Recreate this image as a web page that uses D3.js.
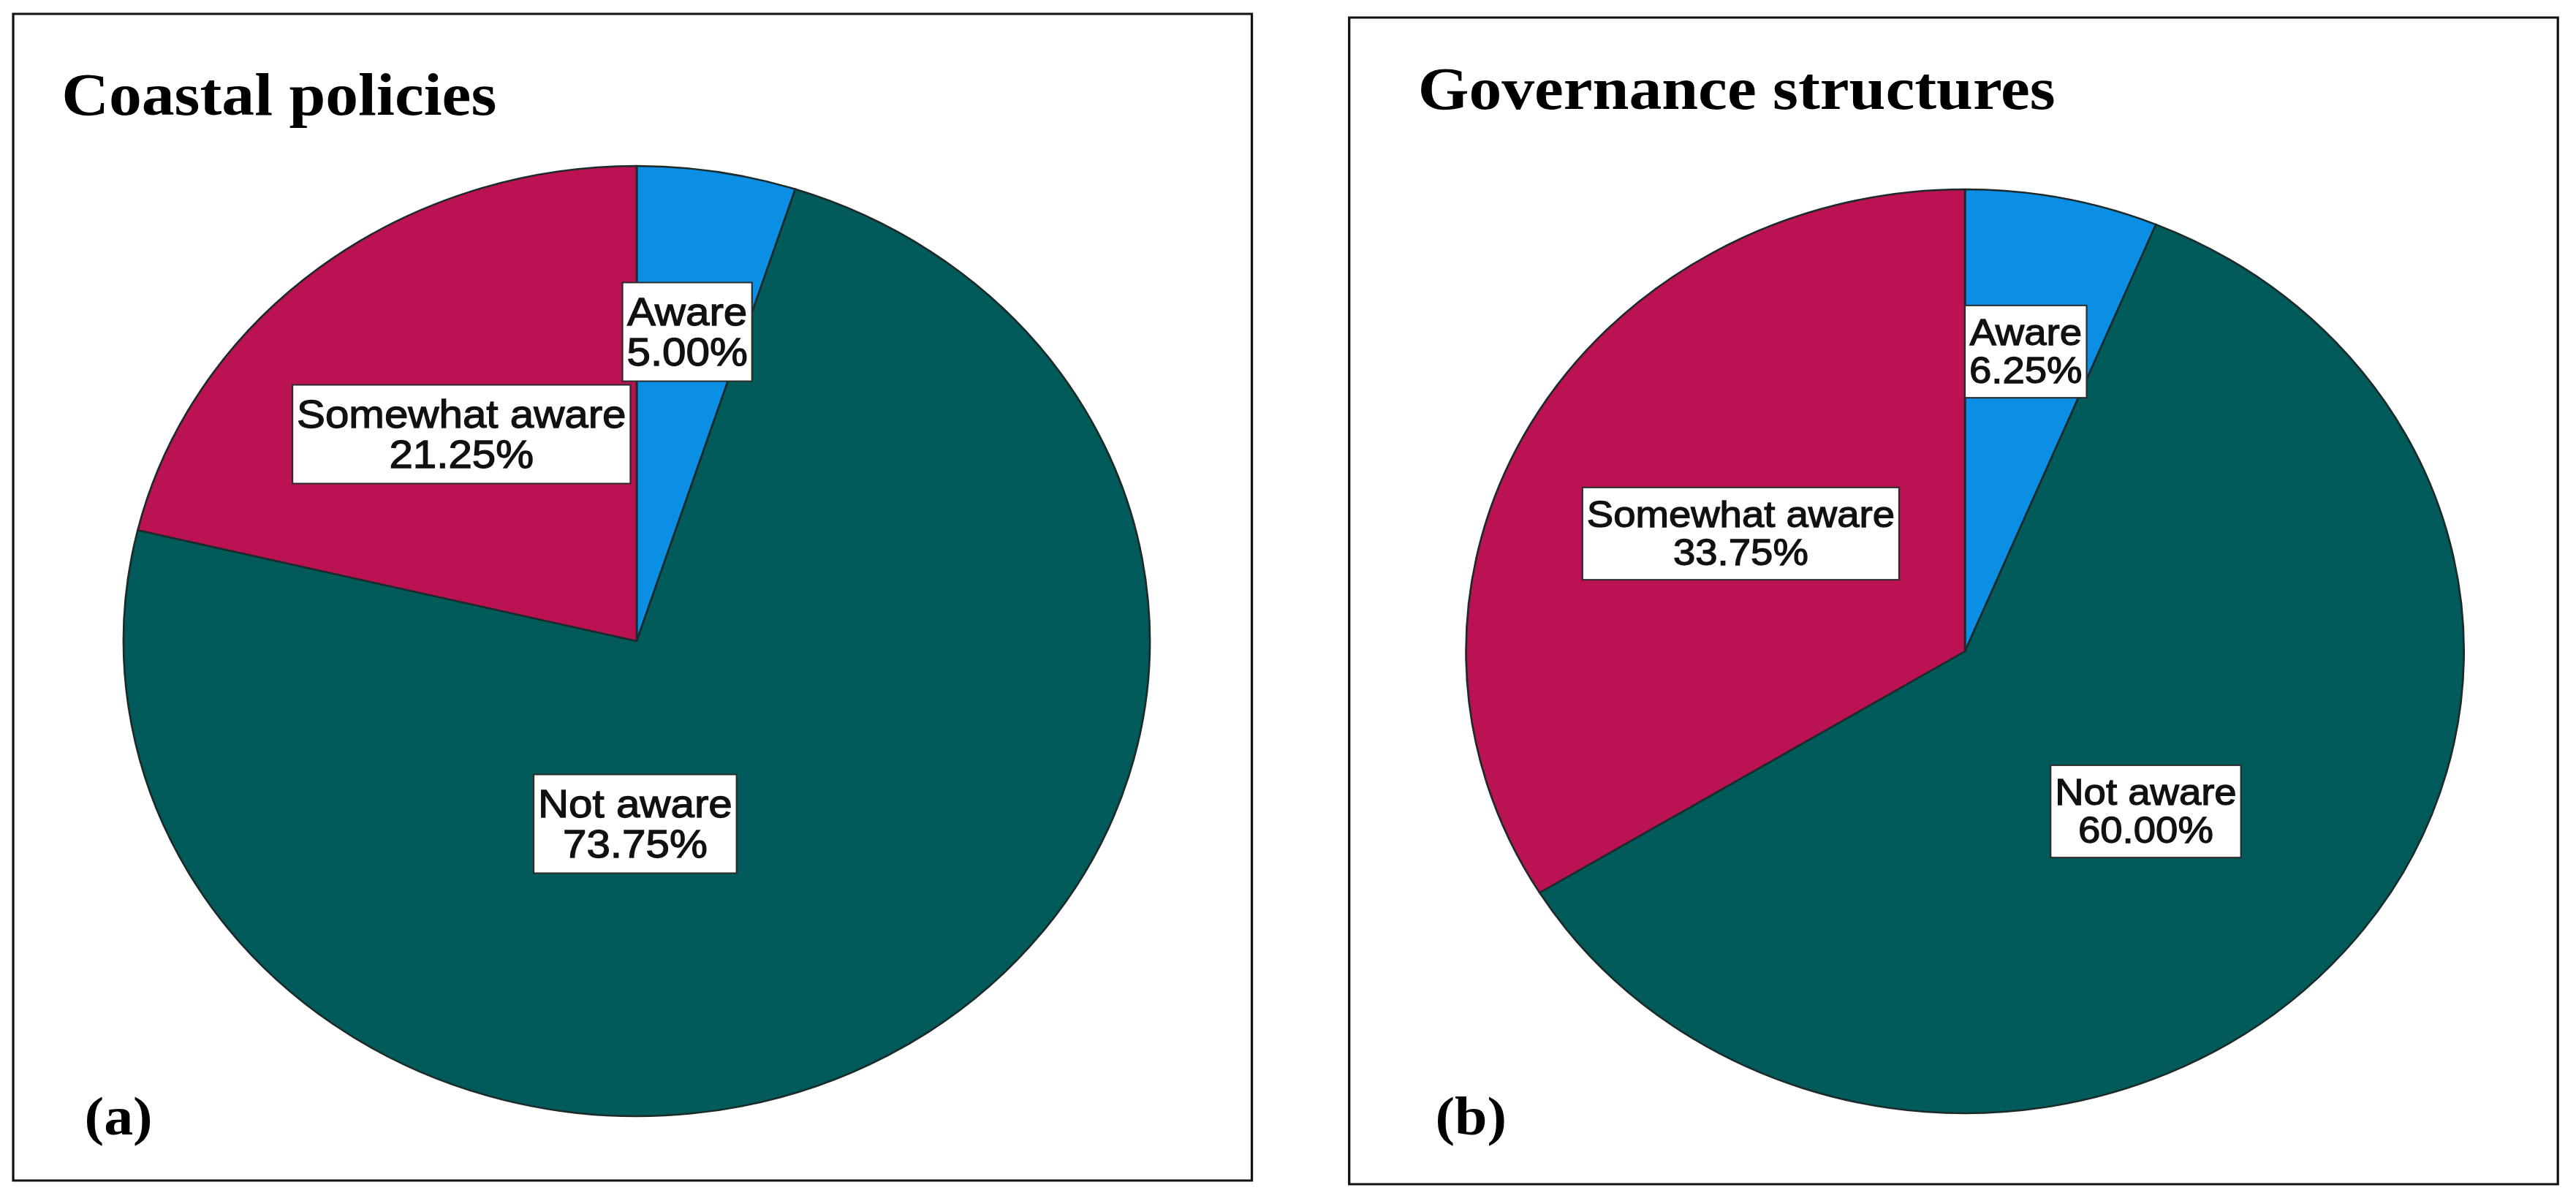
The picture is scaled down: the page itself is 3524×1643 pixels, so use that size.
<!DOCTYPE html>
<html>
<head>
<meta charset="utf-8">
<script src="https://cdn.jsdelivr.net/npm/d3@7/dist/d3.min.js"></script>
<style>
  html, body { margin: 0; padding: 0; background: #fff; }
  svg { display: block; }
</style>
</head>
<body>
<div id="chart"></div>
<script>
// data
const categories = ['Aware', 'Not aware', 'Somewhat aware'];
const coastalValues = [5.00, 73.75, 21.25];
const governanceValues = [6.25, 60.00, 33.75];
const panelTitles = ['Coastal policies', 'Governance structures'];
const panelTags = ['(a)', '(b)'];

const colors = {
  'Aware': '#0A8FE4',
  'Not aware': '#015B5B',
  'Somewhat aware': '#BA1252'
};

const W = 3524, H = 1643;
const SX = 1.08; // the figure is slightly stretched horizontally

// layout of each panel (unscaled x units)
const panels = [
  {
    values: coastalValues, title: panelTitles[0], tag: panelTags[0],
    box: [16.7, 19, 1569, 1596], cx: 806.5, cy: 877, r: 650,
    titleX: 78, titleY: 157, tagX: 107, tagY: 1552, font: 54,
    labels: [[64, -423], [-2, 250], [-222, -283]]
  },
  {
    values: governanceValues, title: panelTitles[1], tag: panelTags[1],
    box: [1709, 24, 1531, 1596], cx: 2489, cy: 891, r: 632,
    titleX: 1796, titleY: 149, tagX: 1818, tagY: 1552, font: 50.5,
    labels: [[77, -410], [229, 219], [-284, -161]]
  }
];

const svg = d3.select('#chart').append('svg')
  .attr('width', W)
  .attr('height', H);

svg.append('rect').attr('width', W).attr('height', H).attr('fill', '#fff');

const root = svg.append('g').attr('transform', `scale(${SX},1)`);

const pie = d3.pie().sort(null).value(d => d.value);

panels.forEach(p => {
  const g = root.append('g');

  g.append('rect')
    .attr('x', p.box[0]).attr('y', p.box[1])
    .attr('width', p.box[2]).attr('height', p.box[3])
    .attr('fill', '#fff')
    .attr('stroke', '#111')
    .attr('stroke-width', 3);

  g.append('text')
    .attr('x', p.titleX).attr('y', p.titleY)
    .style('font-family', '"Liberation Serif", "DejaVu Serif", serif')
    .style('font-weight', 'bold')
    .style('font-size', '83px')
    .attr('fill', '#000')
    .text(p.title);

  g.append('text')
    .attr('x', p.tagX).attr('y', p.tagY)
    .style('font-family', '"Liberation Serif", "DejaVu Serif", serif')
    .style('font-weight', 'bold')
    .style('font-size', '74px')
    .attr('fill', '#000')
    .text(p.tag);

  const arc = d3.arc().innerRadius(0).outerRadius(p.r);
  const data = pie(categories.map((c, i) => ({ name: c, value: p.values[i] })));

  const pg = g.append('g').attr('transform', `translate(${p.cx},${p.cy})`);

  pg.selectAll('path.slice')
    .data(data)
    .enter()
    .append('path')
    .attr('class', 'slice')
    .attr('d', arc)
    .attr('fill', d => colors[d.data.name])
    .attr('stroke', '#1c2a2a')
    .attr('stroke-width', 2.5)
    .attr('stroke-linejoin', 'round');

  // labels: white boxes with name and percentage
  const lab = pg.selectAll('g.label')
    .data(data)
    .enter()
    .append('g')
    .attr('class', 'label')
    .attr('transform', (d, i) => `translate(${p.labels[i][0]},${p.labels[i][1]})`);

  const boxRect = lab.append('rect')
    .attr('fill', '#fff')
    .attr('stroke', '#2b2b2b')
    .attr('stroke-width', 2);

  const txt = lab.append('text')
    .attr('text-anchor', 'middle')
    .style('font-family', '"Liberation Sans", Arial, sans-serif')
    .style('font-size', p.font + 'px')
    .attr('fill', '#111')
    .attr('stroke', '#111')
    .attr('stroke-width', 1.3);

  txt.append('tspan').attr('x', 0).attr('y', -p.font * 0.17).text(d => d.data.name);
  txt.append('tspan').attr('x', 0).attr('y', p.font * 0.86).text(d => d.value.toFixed(2) + '%');

  const bh = p.font * 2.5;
  txt.each(function (d, i) {
    const bb = this.getBBox();
    const w = bb.width + 11;
    d3.select(boxRect.nodes()[i])
      .attr('x', -w / 2)
      .attr('y', -bh / 2)
      .attr('width', w)
      .attr('height', bh);
  });
});
</script>
</body>
</html>
